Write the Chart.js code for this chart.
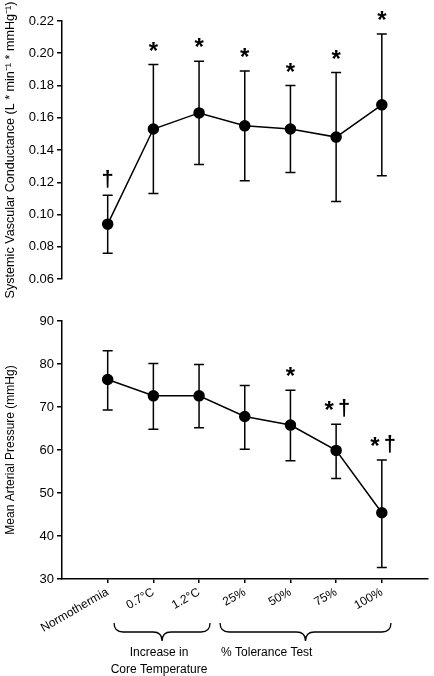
<!DOCTYPE html>
<html>
<head>
<meta charset="utf-8">
<script src="https://cdn.jsdelivr.net/npm/chart.js@4.4.1/dist/chart.umd.min.js"></script>
<style>
  body { margin: 0; background: #fff; }
  #wrap { position: relative; width: 434px; height: 676px; }
  #svcChart { position: absolute; left: 0; top: 0; }
  #mapChart { position: absolute; left: 0; top: 300px; }
</style>
</head>
<body>
<div id="wrap">
  <canvas id="svcChart" width="434" height="300"></canvas>
  <canvas id="mapChart" width="434" height="376"></canvas>
</div>
<script>
/*global Chart*/
const categories = ['Normothermia', '0.7°C', '1.2°C', '25%', '50%', '75%', '100%'];

// systemic vascular conductance, mean and error bar ends
const svcMean = [0.094, 0.153, 0.163, 0.155, 0.153, 0.148, 0.168];
const svcHigh = [0.112, 0.193, 0.195, 0.189, 0.180, 0.188, 0.212];
const svcLow = [0.076, 0.113, 0.131, 0.121, 0.126, 0.108, 0.124];
const svcMarks = ['†', '*', '*', '*', '*', '*', '*'];

// mean arterial pressure
const mapMean = [76.4, 72.6, 72.6, 67.8, 65.8, 59.9, 45.4];
const mapHigh = [83.1, 80.1, 79.9, 75.0, 73.9, 66.0, 57.7];
const mapLow = [69.3, 64.8, 65.2, 60.2, 57.5, 53.4, 32.7];
const mapMarks = ['', '', '', '', '*', '*†', '*†'];

const groups = [
  {from: 0.14, to: 2.24, text: ['Increase in', 'Core Temperature']},
  {from: 2.46, to: 6.2, text: ['% Tolerance Test']}
];

Chart.defaults.font.family = '"Liberation Sans", Arial, sans-serif';
Chart.defaults.color = '#000';

function makeErrorBars(low, high, marks) {
  return {
    id: 'errorBars',
    beforeDatasetsDraw(chart) {
      let ctx = chart.ctx;
      let x = chart.scales.x;
      let y = chart.scales.y;
      ctx.save();
      ctx.strokeStyle = '#000';
      ctx.lineWidth = 1.5;
      for(let i = 0; i < high.length; i++) {
        let px = x.getPixelForValue(i);
        let top = y.getPixelForValue(high[i]);
        let bot = y.getPixelForValue(low[i]);
        ctx.beginPath();
        ctx.moveTo(px, top);
        ctx.lineTo(px, bot);
        ctx.moveTo(px - 5, top);
        ctx.lineTo(px + 5, top);
        ctx.moveTo(px - 5, bot);
        ctx.lineTo(px + 5, bot);
        ctx.stroke();
      }
      ctx.restore();
    },
    afterDatasetsDraw(chart) {
      let ctx = chart.ctx;
      let x = chart.scales.x;
      let y = chart.scales.y;
      ctx.save();
      ctx.fillStyle = '#000';
      ctx.textAlign = 'center';
      ctx.textBaseline = 'alphabetic';
      for(let i = 0; i < marks.length; i++) {
        let chars = [...marks[i]];
        if(chars.length === 0) {
          continue;
        }
        let px = x.getPixelForValue(i);
        let top = y.getPixelForValue(high[i]);
        let offs = chars.length === 1 ? [0] : [-7, 8];
        chars.forEach((c, k) => {
          if(c === '*') {
            ctx.font = 'bold 24px "Liberation Sans", Arial, sans-serif';
            ctx.fillText(c, px + offs[k], top - 6);
          } else {
            ctx.font = 'bold 22px "Liberation Sans", Arial, sans-serif';
            ctx.fillText(c, px + offs[k], top - 9);
          }
        });
      }
      ctx.restore();
    }
  };
}

const bracePlugin = {
  id: 'braces',
  afterDraw(chart) {
    let ctx = chart.ctx;
    let x = chart.scales.x;
    let base = chart.chartArea.bottom;
    ctx.save();
    ctx.strokeStyle = '#000';
    ctx.lineWidth = 1.3;
    ctx.fillStyle = '#000';
    ctx.font = '12px "Liberation Sans", Arial, sans-serif';
    groups.forEach((g, gi) => {
      let x1 = x.getPixelForValue(g.from);
      let x2 = x.getPixelForValue(g.to);
      let xm = (x1 + x2) / 2;
      let y0 = base + 44;
      let r = 9;
      ctx.beginPath();
      ctx.moveTo(x1, y0);
      ctx.quadraticCurveTo(x1, y0 + r, x1 + r, y0 + r);
      ctx.lineTo(xm - r, y0 + r);
      ctx.quadraticCurveTo(xm, y0 + r, xm, y0 + 18);
      ctx.quadraticCurveTo(xm, y0 + r, xm + r, y0 + r);
      ctx.lineTo(x2 - r, y0 + r);
      ctx.quadraticCurveTo(x2, y0 + r, x2, y0);
      ctx.stroke();
      if(gi === 0) {
        ctx.textAlign = 'center';
        g.text.forEach((t, k) => {
          ctx.fillText(t, xm - 3, base + 77 + k * 16.5);
        });
      } else {
        ctx.textAlign = 'left';
        ctx.fillText(g.text[0], x1 + 1, base + 77);
      }
    });
    ctx.restore();
  }
};

function pointData(values) {
  return values.map((v, i) => ({x: i, y: v}));
}

function lineDataset(values) {
  return {
    data: pointData(values),
    borderColor: '#000',
    borderWidth: 1.5,
    pointRadius: 5,
    pointBackgroundColor: '#000',
    pointBorderColor: '#000',
    tension: 0,
    fill: false
  };
}

function yAxis(min, max, step, title, titleSize, decimals) {
  return {
    type: 'linear',
    min: min,
    max: max,
    afterFit: (scale) => {
      scale.width = 62;
    },
    ticks: {
      stepSize: step,
      padding: 3,
      font: {size: 13},
      color: '#000',
      callback: (v) => Number(v).toFixed(decimals)
    },
    grid: {drawOnChartArea: false, drawTicks: true, tickLength: 5, color: '#000', lineWidth: 1.5},
    border: {color: '#000', width: 1.5},
    title: {display: true, text: title, font: {size: titleSize}, padding: {top: 3, bottom: 0}, color: '#000'}
  };
}

new Chart(document.getElementById('svcChart'), {
  type: 'line',
  data: {datasets: [lineDataset(svcMean)]},
  options: {
    responsive: false,
    animation: false,
    layout: {padding: {top: 21, right: 2, bottom: 21, left: 0}},
    plugins: {legend: {display: false}, tooltip: {enabled: false}},
    scales: {
      x: {type: 'linear', min: -1, max: 7, display: false},
      y: yAxis(0.06, 0.22, 0.02, 'Systemic Vascular Conductance (L * min⁻¹ * mmHg⁻¹)', 12.6, 2)
    }
  },
  plugins: [makeErrorBars(svcLow, svcHigh, svcMarks)]
});

new Chart(document.getElementById('mapChart'), {
  type: 'line',
  data: {datasets: [lineDataset(mapMean)]},
  options: {
    responsive: false,
    animation: false,
    layout: {padding: {top: 21, right: 2, bottom: 0, left: 0}},
    plugins: {legend: {display: false}, tooltip: {enabled: false}},
    scales: {
      x: {
        type: 'linear',
        min: -1,
        max: 7,
        afterBuildTicks: (axis) => {
          axis.ticks = categories.map((c, i) => ({value: i}));
        },
        afterFit: (scale) => {
          scale.height = 97;
        },
        ticks: {
          autoSkip: false,
          minRotation: 30,
          maxRotation: 30,
          padding: 2,
          font: {size: 12},
          color: '#000',
          callback: (v) => categories[v] !== undefined ? categories[v] : ''
        },
        grid: {drawOnChartArea: false, drawTicks: true, tickLength: 4, color: '#000', lineWidth: 1.5},
        border: {color: '#000', width: 1.5}
      },
      y: yAxis(30, 90, 10, 'Mean Arterial Pressure (mmHg)', 12, 0)
    }
  },
  plugins: [makeErrorBars(mapLow, mapHigh, mapMarks), bracePlugin]
});
</script>
</body>
</html>
